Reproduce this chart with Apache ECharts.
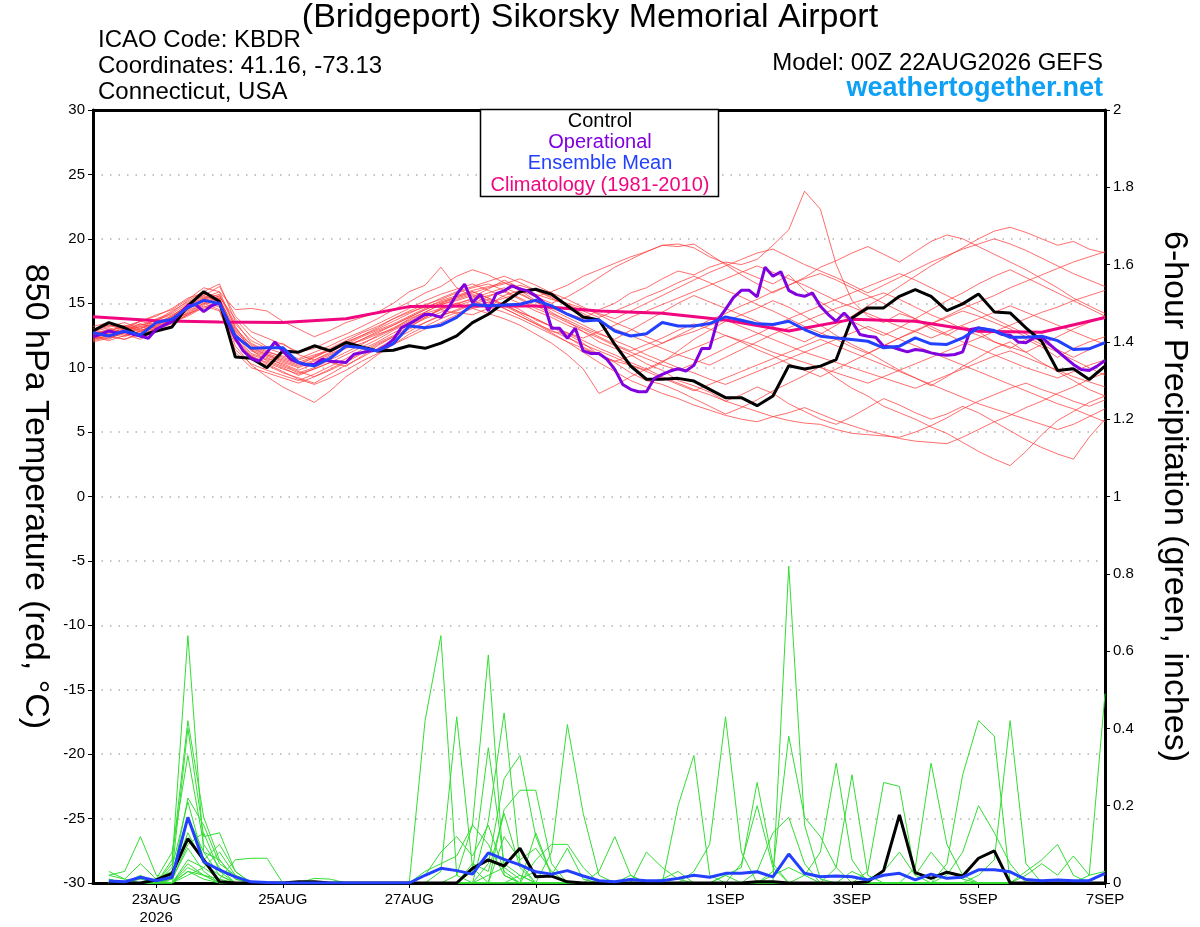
<!DOCTYPE html>
<html>
<head>
<meta charset="utf-8">
<title>KBDR GEFS meteogram</title>
<script src="https://cdn.jsdelivr.net/npm/echarts@6/dist/echarts.min.js"></script>
<style>
  html, body { margin: 0; padding: 0; background: #fff; }
  #chart { width: 1200px; height: 927px; }
</style>
</head>
<body>
<div id="chart"></div>
<script>
// x is hours since 00Z 22AUG2026
const tickHours = [24, 72, 120, 168, 240, 288, 336, 384];
const tickLabels = ['23AUG\n2026', '25AUG', '27AUG', '29AUG', '1SEP', '3SEP', '5SEP', '7SEP'];

// climatology, one value per day (00Z)
const climTemp = [13.95, 13.65, 13.55, 13.5, 13.8, 14.74, 14.78, 14.78, 14.4, 14.22, 13.7, 12.85, 13.75, 13.6, 12.82, 12.75, 13.9];

// 6-hourly temperatures, hour 0..384
const controlTemp = [
  12.85, 13.5, 13.1, 12.46, 12.85, 13.16, 14.8, 15.9, 15.13,
  10.83, 10.73, 10.0, 11.3, 11.2, 11.7, 11.3, 11.95,
  11.6, 11.3, 11.35, 11.7, 11.5, 11.9, 12.46, 13.5,
  14.15, 15.05, 15.9, 16.09, 15.7, 14.8, 13.94, 13.7,
  11.8, 10.13, 9.1, 9.1, 9.17, 8.96, 8.32, 7.67,
  7.67, 7.05, 7.8, 10.15, 9.9, 10.12, 10.63, 13.86,
  14.64, 14.64, 15.54, 16.06, 15.54, 14.43, 14.95, 15.72,
  14.33, 14.25, 13.09, 12.05, 9.78, 9.91, 9.08, 10.12
];
const meanTemp = [
  12.72, 12.46, 12.85, 12.54, 13.5, 13.76, 14.66, 15.23, 14.97, 12.46,
  11.5, 11.55, 11.55, 10.39, 10.13, 10.73, 11.68, 11.55, 11.3, 11.87,
  13.24, 13.1, 13.3, 13.9, 14.9, 14.8, 14.87, 14.92, 15.23, 14.8,
  14.15, 13.63, 13.7, 12.85, 12.46, 12.64, 13.5, 13.24, 13.24, 13.42,
  13.94, 13.68, 13.4, 13.35, 13.6, 12.96, 12.44, 12.31, 12.18, 12.05,
  11.54, 11.67, 12.31, 11.85, 11.8, 12.31, 13.09, 12.88, 12.36, 12.36,
  12.44, 12.1, 11.41, 11.46, 11.95
];
// operational run is 3-hourly, hour 0..384
const opTemp = [
  12.4, 12.6, 12.85, 12.7, 12.8, 12.6, 12.46, 12.28, 12.98, 13.3, 13.57, 14.2, 14.8, 14.9, 14.35, 14.8,
  15.05, 13.6, 12.28, 11.3, 10.73, 10.5, 11.17, 12.0, 11.3, 10.65, 10.4, 10.2, 10.26, 10.65, 10.5, 10.46,
  10.4, 11.04, 11.17, 11.3, 11.35, 11.68, 12.2, 13.1, 13.4, 13.76, 14.15, 14.1, 13.9, 14.66, 15.7, 16.48,
  15.05, 15.7, 14.4, 15.75, 15.96, 16.35, 16.1, 15.96, 15.57, 15.05, 13.06, 13.06, 12.28, 13.06, 11.3, 11.1,
  11.1, 10.65, 9.87, 8.7, 8.32, 8.13, 8.13, 9.17, 9.48, 9.74, 9.92, 9.74, 10.18, 11.48, 11.48, 13.68,
  14.53, 15.44, 16.0, 16.0, 15.5, 17.8, 17.1, 17.45, 16.0, 15.67, 15.54, 15.8, 14.77, 14.12, 13.6, 14.25,
  13.6, 12.57, 12.44, 12.36, 11.67, 11.61, 11.41, 11.23, 11.41, 11.33, 11.15, 11.02, 10.97, 11.02, 11.23, 12.96,
  13.09, 12.96, 12.83, 12.57, 12.52, 12.0, 11.93, 12.31, 12.36, 11.8, 11.28, 10.76, 10.25, 9.86, 9.78, 10.12,
  10.56
];

// ensemble members, 6-hourly, hour 0..384
const memberTemps = [
  [12.6,12.9,13.2,12.8,13.4,14.0,14.9,15.8,15.5, 13.8,12.4,11.6,11.9,11.0,10.6,11.2,11.8, 12.1,12.6,13.0,13.8,14.3,14.9,15.2,15.6, 15.0,15.4,15.8,15.1,14.6,14.2,13.8,14.5, 15.0,15.8,16.2,16.9,17.5,17.2,17.8,18.2, 18.0,18.4,19.5,20.7,23.7,22.3,18.0,15.2, 14.0,13.5,14.2,13.8,13.0,12.5,13.2,12.8, 12.0,11.5,12.2,11.6,10.8,11.5,12.0,12.4],
  [12.9,13.3,13.0,13.6,14.1,14.5,15.3,16.2,15.9, 14.5,14.6,14.4,13.6,13.0,12.4,12.9,13.5, 13.9,14.3,15.0,15.9,16.4,17.8,16.2,15.5, 16.1,16.8,16.2,15.5,15.9,16.4,17.1,17.6, 18.1,18.6,19.0,19.5,19.4,19.6,18.8,18.0, 17.2,16.5,15.8,16.4,17.0,17.8,18.3,18.9, 19.4,18.8,18.2,19.0,19.8,20.3,20.0,19.4, 18.8,18.2,17.6,16.9,16.2,15.4,14.8,14.2],
  [12.3,12.6,12.4,12.9,13.3,13.9,14.5,15.4,15.0, 12.1,10.6,10.2,9.6,9.2,8.8,9.5,10.2, 10.8,11.5,12.2,12.8,13.5,14.1,14.4,14.9, 15.3,14.8,14.2,13.5,12.8,12.6,11.9,11.0, 10.4,9.6,9.0,8.7,8.2,7.6,7.0,6.4, 6.9,7.5,8.2,8.8,9.4,10.1,9.2,8.4, 7.8,7.0,6.5,6.0,5.4,4.9,4.2,3.5, 2.9,2.4,3.5,4.8,5.9,6.6,7.3,7.8],
  [12.5,12.2,12.8,13.2,12.9,13.6,14.3,15.0,15.6, 13.2,11.4,10.5,10.0,9.4,9.9,10.4,10.1, 10.9,11.7,12.4,13.1,13.9,14.6,15.0,14.6, 14.9,15.6,16.0,15.2,14.3,13.6,12.8,12.0, 11.5,11.0,10.3,9.8,9.0,8.6,8.1,7.4, 7.9,8.5,8.0,7.2,6.6,6.0,5.6,6.2, 6.9,7.6,7.1,6.5,6.0,6.4,7.0,6.5, 5.8,5.1,4.4,3.8,3.3,2.9,4.6,6.0],
  [12.1,12.4,12.2,12.6,13.0,13.4,14.6,15.3,14.8, 11.7,10.2,9.3,8.5,7.9,7.3,8.2,9.3, 10.1,11.0,11.8,12.6,13.2,13.8,14.3,14.1, 14.6,15.1,14.5,13.7,13.2,12.4,11.6,11.0, 10.5,10.2,9.8,10.4,11.3,12.2,12.9,13.6, 14.1,14.6,15.2,14.7,14.0,13.3,12.5,11.8, 11.2,10.5,9.8,9.2,8.6,9.3,10.1,10.8, 11.5,12.0,11.2,10.4,9.7,9.0,8.3,7.8],
  [12.8,13.1,12.7,13.0,13.8,14.2,15.0,15.6,16.3, 14.0,12.8,12.3,11.8,11.2,11.5,12.1,12.6, 13.2,13.8,14.5,15.1,15.8,16.3,17.1,17.6, 17.2,16.6,16.0,15.5,15.0,15.5,16.2,17.0, 17.8,18.4,19.0,19.5,19.6,19.3,18.6,18.1, 17.5,17.0,16.5,17.2,16.0,15.1,14.3,13.6, 13.0,12.5,13.1,13.8,14.5,15.2,15.8,16.5, 17.1,17.6,17.0,16.4,15.8,15.2,14.6,14.0],
  [12.4,12.8,13.3,12.9,13.2,13.9,14.8,15.5,15.2, 12.8,11.6,11.0,10.6,10.2,10.8,11.4,12.0, 12.5,13.1,13.8,14.4,14.9,15.3,15.8,16.2, 16.5,16.0,15.4,14.8,14.2,13.7,13.1,12.6, 12.2,12.9,13.6,14.3,15.0,15.6,15.1,14.6, 14.1,13.6,13.0,12.5,12.0,12.6,13.3,14.0, 14.8,15.5,16.3,17.1,17.9,18.6,19.3,20.0, 20.6,20.9,20.5,20.0,19.5,19.8,19.2,18.9],
  [12.2,12.5,12.9,12.5,13.0,13.5,14.1,14.9,15.4, 12.5,11.1,10.7,10.3,9.8,10.3,10.9,11.5, 11.9,12.4,13.0,13.6,14.2,14.6,15.0,15.3, 15.6,15.9,15.3,14.6,14.1,13.5,13.0,12.4, 11.8,11.3,11.8,12.3,12.9,13.4,13.0,12.5, 12.0,11.4,10.9,10.3,9.8,9.3,9.9,10.5, 11.1,11.7,12.3,12.8,13.4,13.9,14.4,14.0, 13.5,13.0,12.4,11.8,11.2,10.6,10.0,9.4],
  [12.7,12.4,12.9,13.4,13.1,13.7,14.4,15.1,14.7, 12.0,10.9,10.4,9.9,9.5,9.9,10.4,11.0, 11.6,12.2,12.9,13.5,14.0,14.5,14.2,14.7, 15.1,14.6,14.0,13.4,12.7,12.0,11.2,10.4, 9.7,9.0,8.5,8.0,7.6,7.1,6.7,6.3, 6.0,5.8,6.2,5.9,5.7,5.6,5.2,4.9, 4.8,4.7,4.6,5.0,5.5,6.1,6.8,7.4, 7.9,8.4,8.8,8.3,7.9,7.4,7.0,7.5],
  [12.9,13.2,13.5,13.0,13.6,14.3,15.2,15.9,16.5, 13.6,11.9,11.3,10.8,10.4,10.9,11.5,12.1, 12.7,13.2,13.8,14.3,14.7,15.1,15.5,15.9, 15.4,14.9,14.3,13.8,13.2,12.7,12.1,11.5, 11.0,10.4,9.9,9.3,8.8,8.3,7.9,7.4, 7.0,6.6,6.2,6.5,6.9,6.4,5.9,5.5, 5.1,4.8,4.5,4.3,4.2,4.1,4.6,5.2, 5.8,6.3,6.9,7.4,8.0,8.5,9.1,9.6],
  [12.0,12.3,12.7,13.1,13.4,13.8,14.2,14.6,15.0, 12.7,11.3,10.8,10.2,9.7,9.3,9.8,10.4, 11.1,11.8,12.4,13.0,13.5,14.0,14.5,15.0, 15.5,16.0,16.4,16.0,15.4,14.8,14.2,13.6, 13.0,12.5,12.0,11.5,11.0,10.6,10.2,10.8, 11.4,12.0,12.6,13.1,13.6,14.1,14.6,15.0, 15.4,15.8,15.3,14.7,14.1,13.6,13.0,12.5, 12.0,11.6,11.2,11.8,12.4,13.0,13.5,14.0],
  [13.2,13.5,13.1,13.6,14.0,14.6,15.4,15.8,15.3, 13.0,11.8,11.2,10.9,10.6,11.0,11.3,11.8, 12.4,12.9,13.4,14.0,14.6,15.2,15.6,16.0, 16.3,16.6,16.2,15.7,15.3,15.0,14.6,14.2, 13.8,14.4,15.0,15.6,16.2,16.8,17.4,17.9, 18.4,18.9,19.2,18.6,18.0,17.5,17.0,16.4, 15.8,16.4,17.0,17.6,18.2,18.7,19.2,19.6, 20.0,19.6,19.1,18.5,17.9,17.3,16.8,16.3],
  [12.6,13.0,12.6,12.2,12.9,13.6,14.2,15.0,14.5, 11.2,10.0,9.6,9.2,8.8,9.3,9.9,10.5, 11.2,11.9,12.5,13.2,13.8,14.3,14.8,15.2, 14.7,14.3,13.8,13.2,12.6,12.0,11.5,11.0, 10.5,10.9,11.4,11.9,12.4,12.8,13.3,13.7, 13.2,12.7,12.2,11.7,11.2,10.8,10.4,10.0, 9.6,9.2,8.8,8.4,8.9,9.4,9.9,10.4, 10.9,11.3,10.8,10.3,9.8,9.3,8.9,8.5],
  [12.3,12.7,13.0,13.4,13.0,13.5,14.0,14.7,15.1, 12.2,10.9,10.3,9.7,9.1,8.7,9.2,9.8, 10.5,11.1,11.8,12.4,13.0,13.5,14.1,14.6, 14.2,13.8,13.3,12.6,11.9,11.0,9.9,8.0, 8.6,9.3,9.9,10.5,11.0,11.5,12.0,12.5, 12.1,11.7,11.2,10.8,10.4,10.0,9.6,9.2, 8.8,9.3,9.8,10.3,10.8,11.3,11.8,12.3, 12.8,13.3,13.8,14.3,14.7,15.2,15.6,16.0],
  [12.8,12.5,12.9,13.3,13.7,14.1,14.7,15.2,14.9, 12.9,11.5,11.0,10.5,10.1,10.6,11.1,11.6, 12.2,12.8,13.3,13.9,14.5,15.0,15.4,15.8, 16.2,16.5,16.9,16.4,15.8,15.3,14.7,14.1, 13.5,13.0,12.4,11.9,12.5,13.1,13.7,14.2, 14.8,15.3,15.9,16.4,16.9,17.3,16.8,16.2, 15.6,15.0,14.4,13.8,13.2,12.6,12.0,11.5, 11.0,10.5,10.0,9.6,9.2,9.7,10.2,10.6],
  [12.4,12.1,12.5,12.8,13.2,13.7,14.5,15.3,15.7, 13.4,12.1,11.5,11.1,10.7,11.2,11.7,12.3, 12.8,13.4,14.0,14.6,15.2,15.7,16.1,16.5, 16.0,15.5,15.0,14.4,13.9,13.3,12.8,12.3, 11.7,11.2,10.7,10.2,9.8,10.3,10.9,11.5, 12.1,12.6,13.2,13.8,14.3,14.8,15.3,15.8, 16.3,16.8,17.3,16.8,16.2,15.6,15.0,14.4, 13.8,13.2,12.6,12.0,11.4,10.8,11.4,12.0],
  [12.6,12.9,12.5,12.8,13.5,14.0,14.9,15.6,15.1, 12.3,11.0,10.6,10.1,9.6,10.0,10.6,11.2, 11.8,12.5,13.1,13.7,14.3,14.9,15.3,15.7, 15.2,14.6,14.0,13.4,12.9,12.3,11.8,11.3, 10.8,10.2,9.7,9.2,8.7,8.2,8.7,9.2, 9.7,10.2,10.7,11.2,11.7,12.2,11.7,11.2, 10.7,10.2,9.7,9.2,8.7,8.2,7.7,7.2, 6.8,6.4,6.0,5.6,5.2,5.6,6.2,6.8],
  [12.9,12.6,13.2,13.6,13.3,13.9,14.8,15.4,15.9, 13.1,11.7,11.1,10.7,10.3,10.8,11.4,11.9, 12.5,13.0,13.6,14.2,14.8,15.4,15.9,16.3, 16.7,17.1,16.6,16.0,15.5,14.9,14.4,13.9, 14.4,14.9,15.5,16.0,16.6,17.1,16.6,16.0, 15.5,14.9,14.4,13.8,13.2,12.7,12.2,11.6, 11.1,11.7,12.3,12.9,13.4,14.0,14.6,15.1, 15.6,16.2,16.7,17.2,17.7,18.2,18.6,19.0],
  [12.2,12.5,12.2,12.7,13.1,13.5,14.1,14.8,14.4, 11.4,10.3,9.8,9.4,9.0,9.5,10.1,10.7, 11.4,12.0,12.7,13.3,13.9,14.5,14.9,15.4, 15.8,16.2,15.7,15.1,14.5,13.9,13.3,12.7, 12.1,11.6,11.0,10.5,10.0,9.6,9.1,8.7, 9.2,9.7,10.2,10.7,11.2,11.7,12.2,12.7, 13.2,12.7,12.2,11.7,11.2,10.7,10.2,9.7, 9.2,8.7,8.2,7.7,7.2,6.8,6.3,5.8],
  [13.0,13.3,12.9,13.2,13.7,14.4,15.1,15.7,15.4, 12.6,11.4,10.9,10.4,10.0,10.5,11.0,11.6, 12.2,12.7,13.3,13.9,14.5,15.0,15.5,15.9, 15.4,14.9,14.3,13.8,13.2,12.7,12.3,12.8, 13.3,13.9,14.4,14.9,15.4,15.9,16.4,16.9, 17.4,17.9,17.4,16.9,16.4,15.8,15.2,14.7, 14.2,13.7,13.2,12.8,12.3,12.8,13.3,13.8, 14.3,14.8,14.3,13.8,13.3,12.8,12.3,11.8]
];

// 6-hour precipitation (inches), hour 6..384
const controlPrecip = [
  0,0,0,0.008,0.025,0.115,0.06,0.003,0,0,0,0,0.003,0.003,0,0,
  0,0,0,0,0,0,0,0.038,0.06,0.044,0.09,0.016,0.018,0.003,0,0,
  0,0,0,0,0,0,0,0,0,0.003,0.003,0,0,0,0,0,
  0.003,0.032,0.176,0.027,0.012,0.028,0.018,0.064,0.083,0,0,0,0,0,0,0
];
const meanPrecip = [
  0.005,0.003,0.015,0.006,0.015,0.17,0.055,0.034,0.016,0.003,0.001,0,0,0,0,0,
  0,0,0,0,0.02,0.038,0.032,0.023,0.078,0.061,0.047,0.029,0.023,0.032,0.018,0.006,
  0.003,0.009,0.006,0.006,0.012,0.02,0.015,0.025,0.025,0.029,0.016,0.075,0.025,0.016,0.018,0.016,
  0.008,0.02,0.025,0.008,0.023,0.012,0.015,0.034,0.034,0.029,0.009,0.006,0.008,0.006,0.006,0.025
];
const memberPrecips = [
  [0,0,0,0,0.05,0.64,0.08,0.02,0,0,0,0,0,0,0,0, 0,0,0,0,0.42,0.64,0.02,0,0,0,0,0,0,0,0,0, 0,0,0,0,0,0,0,0,0,0,0,0.82,0.15,0.01,0,0, 0,0,0,0,0,0,0,0,0,0,0,0,0,0,0,0],
  [0,0,0.01,0,0.06,0.42,0.17,0.06,0.01,0,0,0,0,0,0,0, 0,0,0,0,0,0.03,0.43,0.04,0,0,0.02,0,0,0,0,0, 0,0,0,0,0,0,0,0,0,0,0.03,0.38,0.17,0.12,0.04,0, 0,0,0,0,0,0,0,0,0,0,0,0,0,0,0,0],
  [0.01,0,0,0.01,0.03,0.40,0.12,0.13,0.03,0,0,0,0,0,0,0, 0,0,0,0,0,0,0.02,0.15,0.59,0.02,0,0,0,0,0,0, 0,0,0,0,0,0.03,0.1,0.43,0.08,0,0,0,0,0,0,0, 0,0,0,0,0,0,0,0,0,0,0,0,0,0,0,0],
  [0,0,0,0.01,0.08,0.33,0.10,0.04,0,0,0,0,0,0,0,0, 0,0,0,0,0,0,0,0.03,0.35,0.05,0.02,0,0,0,0,0, 0,0,0,0,0.20,0.33,0.02,0,0,0,0,0,0,0,0,0, 0,0,0,0,0,0,0,0,0,0,0,0,0,0,0,0],
  [0,0,0,0,0.01,0.22,0.15,0.05,0.02,0,0,0,0,0,0,0, 0,0,0,0,0,0,0,0,0.16,0.44,0.05,0,0,0,0,0, 0,0,0,0,0,0,0,0.02,0.04,0.26,0.05,0,0,0,0,0, 0,0,0,0,0,0,0,0,0,0,0,0,0,0,0,0],
  [0,0,0,0,0.04,0.21,0.06,0.10,0.03,0,0,0,0,0,0,0, 0,0,0,0,0,0,0,0,0.05,0.27,0.33,0.12,0.02,0,0,0, 0,0,0,0,0,0,0,0,0,0,0,0,0.02,0.08,0.31,0.06, 0,0,0,0,0,0,0,0,0,0,0,0,0,0,0,0],
  [0,0,0,0,0,0.17,0.08,0.06,0.01,0,0,0,0,0,0,0, 0,0,0,0,0,0,0,0,0,0.19,0.24,0.24,0.05,0,0,0, 0,0,0,0,0,0,0,0,0,0,0,0,0,0,0.04,0.28, 0.02,0,0,0,0,0,0,0,0,0,0,0,0,0,0,0],
  [0,0,0,0,0.02,0.13,0.05,0.02,0,0,0,0,0,0,0,0, 0,0,0,0,0,0,0,0,0,0,0,0,0.08,0.41,0.18,0.02, 0,0,0,0,0,0,0,0,0,0,0,0,0,0,0,0, 0.03,0.26,0.25,0.02,0,0,0,0,0,0,0,0,0,0,0,0],
  [0,0,0,0,0,0.06,0.04,0.08,0.02,0,0,0,0,0,0,0, 0,0,0,0,0.02,0.08,0.12,0.07,0.15,0.03,0,0,0,0,0,0, 0,0,0,0,0,0,0,0,0,0,0,0,0,0,0,0, 0,0,0,0.04,0.31,0.10,0.02,0,0,0,0,0,0,0,0,0],
  [0.02,0.03,0.12,0.02,0.01,0.09,0.03,0,0,0,0,0,0,0,0,0, 0,0,0,0,0.03,0.05,0.07,0.15,0.10,0.02,0,0,0,0,0,0, 0,0,0,0,0,0,0,0,0,0,0,0,0,0,0,0, 0,0,0,0,0,0.05,0.28,0.42,0.38,0,0,0,0,0,0,0],
  [0.02,0.01,0.05,0.01,0,0.05,0.02,0,0,0,0,0,0,0,0,0, 0,0,0,0,0,0,0,0,0,0.12,0.06,0.09,0.03,0,0,0, 0,0,0,0,0,0,0,0,0,0,0,0,0,0,0,0, 0,0,0,0,0,0,0,0.02,0.06,0.42,0.05,0,0,0,0,0],
  [0,0,0,0,0,0.03,0.02,0.01,0.06,0.064,0.064,0,0,0,0,0, 0,0,0,0,0,0,0,0,0,0,0,0.06,0.10,0.10,0.04,0, 0,0,0,0,0,0,0,0,0,0,0,0,0,0,0,0, 0,0,0,0,0,0.02,0.08,0.20,0.13,0.05,0,0,0,0,0,0],
  [0.03,0.01,0,0,0.01,0.10,0.13,0.03,0,0,0,0,0,0,0,0, 0,0,0,0,0,0,0,0.05,0.03,0.18,0.04,0,0,0,0,0.03, 0.12,0.02,0,0,0,0,0,0,0,0.03,0.13,0.17,0.05,0,0,0, 0,0,0,0,0,0,0,0,0,0,0,0,0,0,0,0],
  [0,0,0,0,0,0.02,0.04,0.01,0,0,0,0,0,0,0,0, 0,0,0,0,0,0,0,0,0,0,0,0.13,0.02,0.09,0.01,0, 0,0,0,0,0,0,0,0,0.05,0.20,0.04,0,0,0,0,0, 0,0,0,0,0,0,0,0,0,0,0.03,0.06,0.10,0.02,0,0],
  [0,0,0,0,0,0.04,0.02,0,0,0,0,0,0,0.012,0.01,0, 0,0,0,0,0,0,0,0,0,0,0,0,0,0,0,0, 0,0,0.08,0.04,0.01,0,0,0,0,0,0,0,0,0,0,0, 0,0,0,0,0,0,0,0,0,0,0,0,0,0,0.02,0.49],
  [0.01,0,0.02,0,0,0.03,0.01,0,0,0,0,0,0,0,0,0, 0,0,0,0,0,0,0,0,0.02,0.04,0.01,0.03,0.02,0,0,0, 0,0.02,0,0.01,0.03,0,0,0.02,0,0,0.02,0.04,0.02,0,0,0.03, 0.01,0.03,0.08,0.02,0.08,0.03,0.01,0,0,0,0.02,0.05,0.02,0.07,0.02,0.03]
];

const FONT = '"Liberation Sans", Arial, sans-serif';

// pair each value with its forecast hour
function atHours(values, start, step) {
  return values.map((v, k) => [start + k * step, v]);
}

const tickLabelAt = {};
tickHours.forEach((h, k) => { tickLabelAt[h] = tickLabels[k]; });

function line(name, data, color, width, axis, z) {
  return {
    name: name,
    type: 'line',
    yAxisIndex: axis,
    data: data,
    symbol: 'none',
    silent: true,
    z: z,
    lineStyle: { color: color, width: width },
    emphasis: { disabled: true }
  };
}

const series = [];
memberTemps.forEach((m, k) => {
  series.push(line('t' + k, atHours(m, 0, 6), 'rgba(255,60,60,0.75)', 1, 0, 2));
});
memberPrecips.forEach((m, k) => {
  series.push(line('p' + k, atHours(m, 6, 6), '#33dd33', 1, 1, 2));
});
series.push(line('Climatology', atHours(climTemp, 0, 24), '#f0067f', 3, 0, 3));
series.push(line('Control', atHours(controlTemp, 0, 6), '#000000', 3, 0, 4));
series.push(line('Operational', atHours(opTemp, 0, 3), '#8000e0', 3, 0, 4));
series.push(line('Ensemble Mean', atHours(meanTemp, 0, 6), '#2340ff', 3, 0, 5));
series.push(line('Control precip', atHours(controlPrecip, 6, 6), '#000000', 3, 1, 4));
series.push(line('Mean precip', atHours(meanPrecip, 6, 6), '#2340ff', 3, 1, 5));

function txt(text, x, y, size, opts) {
  opts = opts || {};
  return {
    type: 'text',
    z: 100,
    style: {
      text: text,
      x: x,
      y: y,
      fill: opts.color || '#000',
      font: (opts.bold ? 'bold ' : '') + size + 'px ' + FONT,
      align: opts.align || 'left',
      verticalAlign: 'middle'
    }
  };
}

const chart = echarts.init(document.getElementById('chart'));
chart.setOption({
  animation: false,
  backgroundColor: '#fff',
  textStyle: { fontFamily: FONT },
  grid: { left: 93, right: 95, top: 110, bottom: 44 },
  xAxis: {
    type: 'value',
    min: 0,
    max: 384,
    interval: 24,
    axisLine: { show: true, onZero: false, lineStyle: { color: '#000', width: 3 } },
    axisTick: { show: true, customValues: tickHours, length: 5, lineStyle: { color: '#000', width: 1 } },
    axisLabel: {
      customValues: tickHours,
      formatter: v => tickLabelAt[v] || '',
      color: '#000', fontSize: 15, margin: 8, lineHeight: 18
    },
    splitLine: { show: false }
  },
  yAxis: [
    {
      type: 'value',
      position: 'left',
      min: -30, max: 30, interval: 5,
      name: '850 hPa Temperature (red, °C)',
      nameLocation: 'middle',
      nameRotate: -90,
      nameGap: 40,
      nameTextStyle: { fontSize: 34, color: '#000' },
      axisLine: { show: true, onZero: false, lineStyle: { color: '#000', width: 3 } },
      axisTick: { show: true, length: 5, lineStyle: { color: '#000' } },
      axisLabel: { color: '#000', fontSize: 15, margin: 8 },
      splitLine: { show: true, lineStyle: { color: '#b0b0b0', width: 1.5, type: [1.5, 7] } }
    },
    {
      type: 'value',
      position: 'right',
      min: 0, max: 2, interval: 0.2,
      name: '6-hour Precipitation (green, inches)',
      nameLocation: 'middle',
      nameRotate: -90,
      nameGap: 52,
      nameTextStyle: { fontSize: 34, color: '#000' },
      axisLine: { show: true, onZero: false, lineStyle: { color: '#000', width: 3 } },
      axisTick: { show: true, length: 5, lineStyle: { color: '#000' } },
      axisLabel: { color: '#000', fontSize: 15, margin: 8 },
      splitLine: { show: false }
    }
  ],
  graphic: [
    {
      type: 'line',
      z: 98,
      shape: { x1: 92, y1: 110.5, x2: 1106, y2: 110.5 },
      style: { stroke: '#000', lineWidth: 3 }
    },
    txt('(Bridgeport) Sikorsky Memorial Airport', 590, 18, 34, { align: 'center' }),
    txt('ICAO Code: KBDR', 98, 40, 24),
    txt('Coordinates: 41.16, -73.13', 98, 66, 24),
    txt('Connecticut, USA', 98, 92, 24),
    txt('Model: 00Z 22AUG2026 GEFS', 1103, 63, 24, { align: 'right' }),
    txt('weathertogether.net', 1103, 89, 27, { align: 'right', bold: true, color: '#0ea0f5' }),
    {
      type: 'rect',
      z: 99,
      shape: { x: 480.5, y: 109.5, width: 238, height: 87 },
      style: { fill: '#fff', stroke: '#000', lineWidth: 1.5 }
    },
    txt('Control', 600, 121, 20, { align: 'center' }),
    txt('Operational', 600, 142, 20, { align: 'center', color: '#8000e0' }),
    txt('Ensemble Mean', 600, 163, 20, { align: 'center', color: '#2340ff' }),
    txt('Climatology (1981-2010)', 600, 185, 20, { align: 'center', color: '#f0067f' })
  ],
  series: series
});
</script>
</body>
</html>
